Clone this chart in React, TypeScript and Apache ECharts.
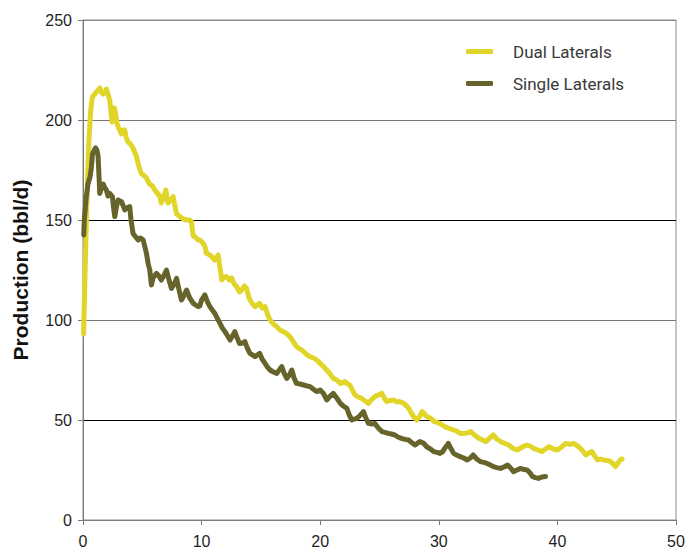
import React, { useEffect, useRef } from "react";
import * as echarts from "echarts";

const seriesNames = ["Dual Laterals", "Single Laterals"];
const xTicks = [0, 10, 20, 30, 40, 50];
const yTicks = [0, 50, 100, 150, 200, 250];

const dualX = [
  0.05, 0.2, 0.35, 0.5, 0.65, 0.8, 1.0, 1.2, 1.41, 1.55, 1.7, 1.85, 1.97, 2.1, 2.25, 2.35, 2.45, 2.55, 2.65, 2.75,
  2.85, 3.0, 3.24, 3.4, 3.52, 3.65, 3.8, 4.0, 4.22, 4.35, 4.5, 4.7, 4.93, 5.1, 5.35, 5.5, 5.63, 5.85, 6.05, 6.25,
  6.47, 6.6, 6.8, 6.98, 7.17, 7.4, 7.6, 7.75, 7.9, 8.17, 8.45, 8.73, 9.0, 9.15, 9.29, 9.43, 9.7, 9.85, 10.14, 10.28,
  10.4, 10.56, 10.85, 11.1, 11.4, 11.55, 11.7, 11.9, 12.1, 12.35, 12.53, 12.75, 12.96, 13.2, 13.38, 13.6, 13.8, 13.95, 14.08, 14.3,
  14.5, 14.7, 14.9, 15.1, 15.35, 15.55, 15.77, 16.05, 16.33, 16.6, 16.9, 17.2, 17.45, 17.75, 18.0, 18.3, 18.6, 18.9, 19.15, 19.45,
  19.7, 20.0, 20.27, 20.55, 20.8, 21.1, 21.4, 21.7, 22.1, 22.3, 22.5, 22.75, 22.95, 23.2, 23.5, 23.8, 24.07, 24.3, 24.6, 24.9,
  25.2, 25.4, 25.6, 25.9, 26.2, 26.45, 26.7, 27.0, 27.3, 27.5, 27.7, 27.9, 28.15, 28.4, 28.6, 28.8, 29.0, 29.3, 29.6, 29.85,
  30.1, 30.4, 30.7, 31.0, 31.25, 31.5, 31.8, 32.0, 32.4, 32.7, 33.0, 33.4, 33.7, 34.0, 34.3, 34.6, 34.9, 35.2, 35.5, 35.9,
  36.2, 36.6, 36.9, 37.2, 37.45, 37.7, 38.0, 38.35, 38.7, 39.0, 39.3, 39.65, 40.0, 40.35, 40.7, 41.05, 41.4, 41.7, 41.95, 42.2,
  42.4, 42.65, 42.9, 43.15, 43.4, 43.65, 43.9, 44.2, 44.5, 44.7, 44.9, 45.1, 45.3, 45.45,
];
const dualY = [
  93, 130, 165, 190, 205, 211.7, 213, 214.5, 216, 214, 213, 214, 215.5, 213, 210, 205, 199, 203, 206, 203,
  198.5, 196, 193, 195, 195, 191, 189, 188, 186, 184, 182, 177, 173, 172.5, 171, 169, 168, 167, 165, 163.5,
  162, 158.5, 161, 165, 158.5, 160, 161.7, 157, 153, 151.7, 150.5, 150, 150, 149, 142, 141.7, 140, 140, 138.3, 136.7,
  133.3, 133, 131.7, 130, 132.5, 126, 120, 121.5, 121.7, 120, 121, 118, 116.7, 114, 115, 117, 115.8, 112, 110, 108,
  106.7, 107.5, 108.3, 106, 106.7, 103, 100, 98, 96.7, 95, 94.2, 93, 91.7, 89, 86.7, 85.5, 84.2, 82.5, 81.7, 81,
  80, 78.3, 76.7, 75, 73.3, 70.8, 70, 68.3, 69.2, 68, 67.5, 64.5, 62.5, 61.5, 60.8, 59.5, 58.3, 60, 61.7, 62.5,
  63.3, 61, 59.2, 59.8, 60, 59, 59.2, 58.5, 57, 55.5, 53.3, 51.5, 50, 52, 54.2, 53, 51.7, 51, 49.2, 48.8,
  48.3, 47, 46.2, 45.5, 45, 44.5, 43.3, 43.3, 43.5, 44.2, 42.5, 40.8, 40, 39.2, 41, 42.5, 40.5, 39.2, 38.5, 37.5,
  36, 35, 36, 37, 37.5, 37, 35.8, 35, 34.2, 35.5, 36.7, 35.5, 35, 36.5, 38.3, 37.8, 38.3, 37, 35.8, 34,
  32.5, 33.5, 34.2, 32, 30, 30.5, 30, 29.8, 29.2, 28, 26.7, 28.5, 30, 30.5,
];

const singleX = [
  0.06, 0.11, 0.25, 0.42, 0.6, 0.7, 0.8, 0.95, 1.07, 1.17, 1.27, 1.35, 1.41, 1.55, 1.7, 1.85, 1.97, 2.1, 2.25, 2.48,
  2.58, 2.68, 2.8, 2.96, 3.1, 3.24, 3.4, 3.52, 3.7, 3.94, 4.05, 4.22, 4.45, 4.65, 4.85, 5.07, 5.2, 5.35, 5.5, 5.63,
  5.77, 5.9, 6.2, 6.4, 6.6, 6.8, 7.04, 7.25, 7.46, 7.7, 7.89, 8.1, 8.3, 8.5, 8.73, 9.0, 9.3, 9.5, 9.71, 9.85,
  10.0, 10.28, 10.5, 10.7, 10.9, 11.12, 11.35, 11.55, 11.75, 11.97, 12.2, 12.4, 12.6, 12.8, 13.0, 13.2, 13.45, 13.65, 13.85, 14.08,
  14.3, 14.5, 14.7, 14.9, 15.1, 15.35, 15.55, 15.77, 16.05, 16.33, 16.55, 16.76, 16.95, 17.18, 17.4, 17.6, 17.8, 18.0, 18.3, 18.6,
  18.9, 19.15, 19.4, 19.7, 20.0, 20.27, 20.55, 20.8, 21.1, 21.4, 21.7, 21.95, 22.25, 22.45, 22.67, 22.9, 23.1, 23.4, 23.65, 23.85,
  24.07, 24.35, 24.6, 24.9, 25.2, 25.45, 25.75, 26.0, 26.3, 26.55, 26.85, 27.15, 27.45, 27.7, 28.0, 28.4, 28.7, 29.0, 29.3, 29.57,
  29.85, 30.1, 30.3, 30.5, 30.8, 31.0, 31.25, 31.5, 31.8, 32.1, 32.4, 32.65, 32.9, 33.2, 33.5, 33.8, 34.07, 34.35, 34.6, 34.9,
  35.2, 35.5, 35.8, 36.05, 36.3, 36.6, 36.9, 37.2, 37.45, 37.7, 37.9, 38.15, 38.4, 38.7, 39.0,
];
const singleY = [
  142.5, 150, 160, 168, 171.7, 176, 183, 185, 186, 185, 182, 172, 163.3, 166, 168, 166, 165, 162, 163.3, 161.7,
  156, 151.7, 156, 160, 159.5, 159.2, 157, 155, 156, 156.7, 150, 143.3, 141.5, 140, 141, 140, 137, 133.3, 128, 125,
  117.5, 121, 123.3, 122, 120, 122, 125, 120, 115.8, 118, 120.8, 115, 110, 112, 115, 111, 108.3, 107.5, 106.7, 107,
  110, 112.5, 109, 106.7, 105, 103.3, 100.5, 98.3, 96, 94.2, 92, 90, 92, 94.2, 91, 88.3, 88.5, 89.2, 86, 83.3,
  82.5, 81.7, 82.5, 83.3, 80.5, 78.3, 76.5, 75, 74, 73.3, 75, 76.7, 73.5, 70.8, 72.5, 75, 71, 68.3, 68, 67.5,
  67, 66.7, 65.5, 64.2, 65, 63.3, 60, 61.7, 63.3, 61, 58.3, 57, 55.8, 52.5, 50, 50.5, 50.8, 52.5, 54.2, 51,
  48.3, 48, 48.3, 46, 44.2, 43.8, 43.3, 43, 42.5, 41.5, 40.8, 40.3, 40, 38.8, 37.5, 39.2, 38.5, 36.5, 35.5, 34.2,
  33.8, 33.3, 34, 35.8, 38.3, 36, 33.3, 32.5, 31.7, 31, 30, 31, 32.5, 30.5, 29.2, 28.8, 28.3, 27.5, 26.7, 26.2,
  25.8, 26.5, 27.5, 26, 24.2, 25, 25.8, 25.2, 25, 23.5, 21.7, 21.2, 20.8, 21.5, 21.7,
];

const zip = (xs: number[], ys: number[]) => xs.map((x, i) => [x, ys[i]]);

export default function App() {
  const ref = useRef<HTMLDivElement>(null);
  useEffect(() => {
    if (!ref.current) return;
    const chart = echarts.init(ref.current, null, { renderer: "svg" });
    chart.setOption({
      animation: false,
      backgroundColor: "#ffffff",
      grid: {
        left: 83,
        right: 10,
        top: 20,
        bottom: 28,
        show: true,
        borderColor: "#8a8a8a",
        borderWidth: 1,
        outerBoundsMode: "none",
      },
      legend: {
        data: seriesNames,
        orient: "vertical",
        left: 466,
        top: 43,
        padding: 0,
        itemWidth: 27,
        itemHeight: 5,
        itemGap: 15,
        icon: "roundRect",
        textStyle: {
          fontFamily: "Roboto",
          fontSize: 17,
          color: "#3a3a3a",
          padding: [0, 0, 0, 15],
        },
      },
      xAxis: {
        type: "value",
        min: xTicks[0],
        max: xTicks[xTicks.length - 1],
        interval: 10,
        axisLine: { show: true, lineStyle: { color: "#7a7a7a", width: 1 } },
        axisTick: { show: true, length: 5, lineStyle: { color: "#7a7a7a" } },
        axisLabel: {
          margin: 13,
          fontFamily: "Liberation Sans",
          fontSize: 16,
          color: "#1f1f1f",
        },
        splitLine: { show: false },
      },
      yAxis: {
        type: "value",
        min: yTicks[0],
        max: yTicks[yTicks.length - 1],
        interval: 50,
        name: "Production (bbl/d)",
        nameLocation: "middle",
        nameGap: 52,
        nameTextStyle: {
          fontFamily: "Liberation Sans",
          fontWeight: "bold",
          fontSize: 21,
          color: "#111",
        },
        axisLine: { show: true, lineStyle: { color: "#7a7a7a", width: 1 } },
        axisTick: { show: true, length: 5, lineStyle: { color: "#7a7a7a" } },
        axisLabel: {
          margin: 11,
          fontFamily: "Liberation Sans",
          fontSize: 16,
          color: "#1f1f1f",
        },
        splitLine: {
          show: true,
          lineStyle: { color: ["#7a7a7a", "#000000", "#777777", "#000000", "#777777", "#8a8a8a"], width: 1 },
        },
      },
      series: [
        {
          name: seriesNames[0],
          type: "line",
          data: zip(dualX, dualY),
          showSymbol: false,
          symbol: "none",
          color: "#e1d52a",
          lineStyle: { width: 5, color: "#e1d52a", join: "round", cap: "round" },
        },
        {
          name: seriesNames[1],
          type: "line",
          data: zip(singleX, singleY),
          showSymbol: false,
          symbol: "none",
          color: "#66632b",
          lineStyle: { width: 5, color: "#66632b", join: "round", cap: "round" },
        },
      ],
    });
    return () => chart.dispose();
  }, []);
  return (
    <div
      ref={ref}
      style={{ position: "fixed", left: 0, top: 0, width: 686, height: 548, background: "#fff" }}
    />
  );
}
